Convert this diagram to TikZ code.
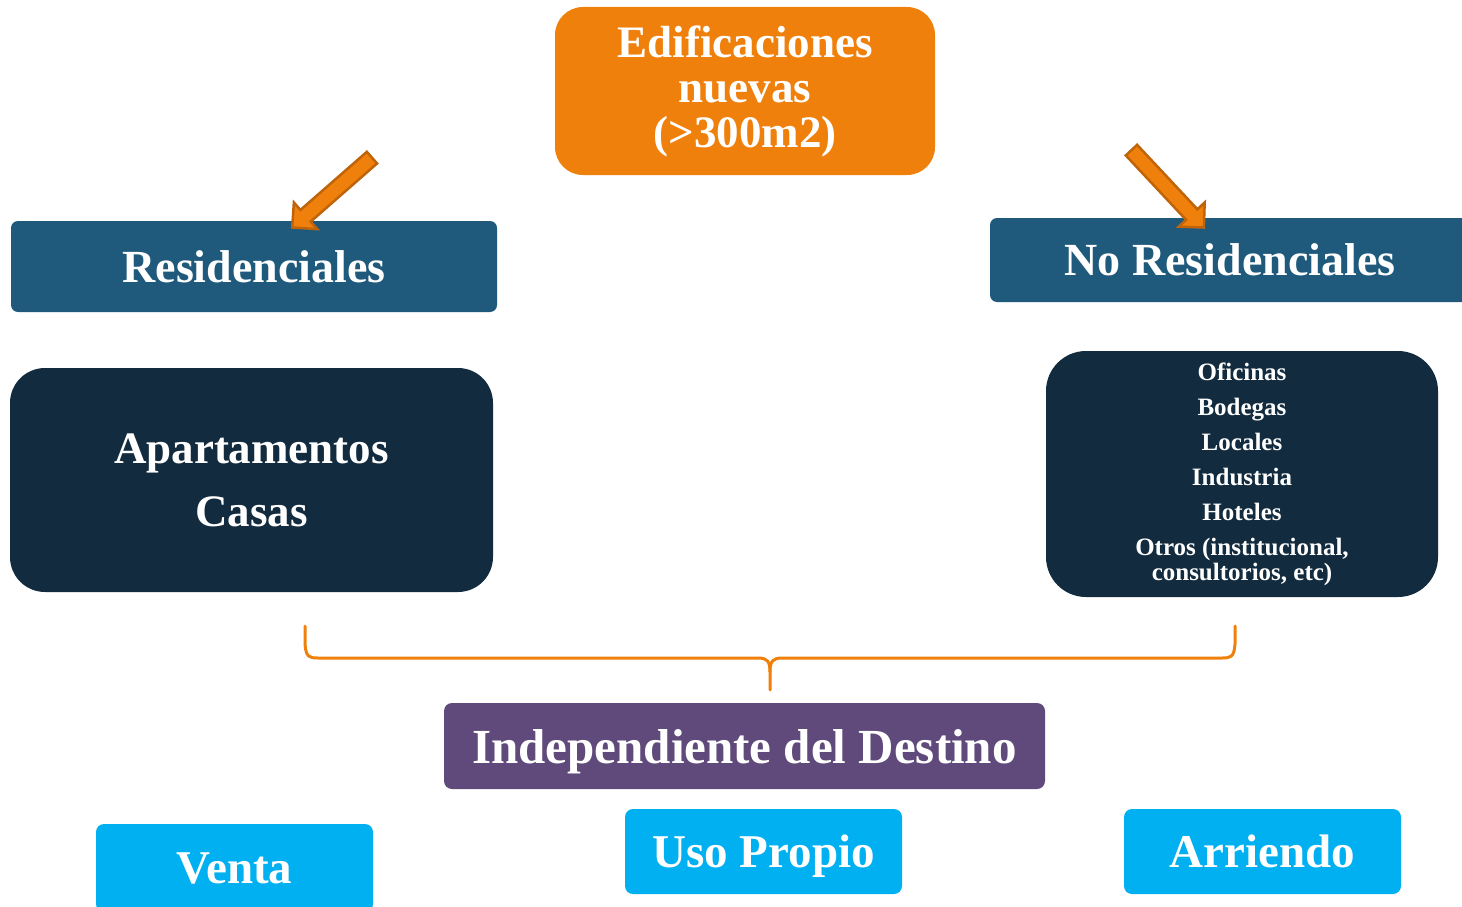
\documentclass[tikz,border=0pt]{standalone}
\usepackage{fontspec}
\setmainfont{Liberation Serif}
\usetikzlibrary{shapes.arrows}
\definecolor{EdOrange}{HTML}{F0800C}
\definecolor{EdOrangeDark}{HTML}{C0640A}
\definecolor{ResBlue}{HTML}{1F5A7C}
\definecolor{ResNavy}{HTML}{122B3E}
\definecolor{DestPurple}{HTML}{604A7B}
\definecolor{UseCyan}{HTML}{00B0F0}
\newcommand{\fsz}[2]{\fontsize{#1}{#2}\selectfont}

\begin{document}
\begin{tikzpicture}[
    x=1pt, y=-1pt,
    box/.style={rectangle, inner sep=0pt, text=white, align=center},
    top/.style={box, fill=EdOrange, rounded corners=28pt,
                minimum width=380pt, minimum height=168pt, font=\bfseries\fsz{45}{45}},
    cat/.style={box, fill=ResBlue, rounded corners=7pt,
                minimum height=88pt, font=\bfseries\fsz{46}{50}},
    items/.style={box, fill=ResNavy},
    dest/.style={box, fill=DestPurple, rounded corners=8pt, text depth=0pt,
                 minimum width=601pt, minimum height=86pt, font=\bfseries\fsz{49}{52}},
    use/.style={box, fill=UseCyan, rounded corners=8pt, text depth=0pt,
                minimum width=277pt, minimum height=85pt, font=\bfseries\fsz{47}{50}},
    blockarrow/.style={single arrow, draw=EdOrangeDark, fill=EdOrange, line width=2.5pt,
                       inner sep=6.5pt, single arrow head extend=10pt,
                       minimum height=106pt},
    bracepath/.style={draw=EdOrange, line width=3pt, line cap=round}
]
\useasboundingbox (0,0) rectangle (1462,907);

% title
\node[top] (edif) at (745,91) {Edificaciones\\ nuevas\\ (>300m2)};

% two categories
\node[cat, minimum width=486pt, minimum height=91pt] (res)   at (254,266.5) {Residenciales};
\node[cat, minimum width=480pt, minimum height=84pt] (nores) at (1230,260)  {No Residenciales};

% what each one holds
\node[items, rounded corners=35pt, minimum width=483pt, minimum height=224pt,
      font=\bfseries\fsz{45}{63}] (resitems) at (251.5,480) {Apartamentos\\ Casas};
\node[items, rounded corners=40pt, minimum width=392pt, minimum height=246pt,
      font=\bfseries\fsz{25}{35}] (noresitems) at (1242,474)
      {Oficinas\\ Bodegas\\ Locales\\ Industria\\ Hoteles\\ Otros (institucional,\\[-10pt] consultorios, etc)};

% arrows from the title
\node[blockarrow, rotate=221.2] (arrowL) at (335,190) {};
\node[blockarrow, rotate=-46.9] (arrowR) at (1165,186) {};

% brace joining both
\coordinate (braceL) at (305,626);
\coordinate (braceR) at (1235,626);
\coordinate (braceTip) at (770,690);
\draw[bracepath] (braceL) -- (305,644) .. controls (306,657) and (309,658) .. (318,658)
    -- (758,658) .. controls (767,658) and (770,661) .. (770,672) -- (braceTip);
\draw[bracepath] (770,672) .. controls (770,661) and (773,658) .. (782,658)
    -- (1222,658) .. controls (1231,658) and (1234,657) .. (1235,644) -- (braceR);

\node[dest] (destino) at (744.5,746) {Independiente del Destino};

% uses
\node[use, minimum height=88pt] (venta) at (234.5,868) {Venta};
\node[use] (propio)   at (763.5,851.5)  {Uso Propio};
\node[use] (arriendo) at (1262.5,851.5) {Arriendo};
\end{tikzpicture}
\end{document}
